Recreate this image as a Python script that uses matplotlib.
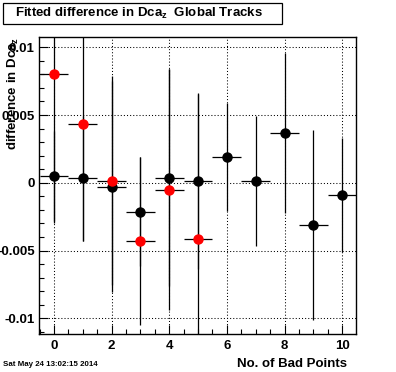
import matplotlib
matplotlib.use("Agg")
import matplotlib.pyplot as plt
from matplotlib.patches import Rectangle
from matplotlib.ticker import MultipleLocator, FixedLocator

plt.rcParams['font.family'] = ['Liberation Sans', 'DejaVu Sans']
plt.rcParams['mathtext.fontset'] = 'custom'
plt.rcParams['mathtext.rm'] = 'Liberation Sans:bold'
plt.rcParams['mathtext.it'] = 'Liberation Sans:bold'
plt.rcParams['mathtext.bf'] = 'Liberation Sans:bold'

# data
bad_points = [0, 1, 2, 3, 4, 5, 6, 7, 8, 9, 10]
black_y = [0.00049, 0.00034, -0.00029, -0.00213, 0.00039, 0.00012,
           0.00192, 0.00015, 0.00366, -0.00310, -0.00090]
black_err = [0.0033, 0.0046, 0.0078, 0.0040, 0.0080, 0.0065,
             0.0040, 0.0048, 0.0059, 0.0070, 0.0042]
red_x = [0, 1, 2, 3, 4, 5]
red_y = [0.00804, 0.00434, 0.00015, -0.00426, -0.00051, -0.00412]
red_err = [0.0110, 0.0086, 0.0077, 0.0062, 0.0089, 0.0107]
x_halfwidth = 0.5
y_ticks = [-0.01, -0.005, 0, 0.005, 0.01]
y_ticklabels = ["-0.01", "-0.005", "0", "0.005", "0.01"]
x_ticks = [0, 2, 4, 6, 8, 10]

W, H = 396, 372
fig = plt.figure(figsize=(W / 100, H / 100), dpi=100)
ax = fig.add_axes([39 / W, 1 - 334 / H, (356 - 39) / W, (334 - 37) / H])

ax.errorbar(bad_points, black_y, yerr=black_err, xerr=x_halfwidth, fmt='o',
            color='black', ecolor='black', elinewidth=0.9, capsize=0,
            markersize=6.5, zorder=3)
ax.errorbar(red_x, red_y, yerr=red_err, xerr=x_halfwidth, fmt='o',
            color='red', mfc='red', mec='red', ecolor='black', elinewidth=0.9,
            capsize=0, markersize=6.5, zorder=4)

ax.set_xlim(-0.52, 10.48)
ax.set_ylim(-0.01116, 0.01076)

ax.xaxis.set_major_locator(FixedLocator(x_ticks))
ax.xaxis.set_minor_locator(MultipleLocator(0.5))
ax.yaxis.set_major_locator(FixedLocator(y_ticks))
ax.yaxis.set_minor_locator(MultipleLocator(0.001))
ax.set_xticklabels([str(v) for v in x_ticks])
ax.set_yticklabels(y_ticklabels)

ax.tick_params(axis='both', which='both', direction='in', width=0.8,
               top=False, right=False)
ax.tick_params(axis='x', which='major', length=6.5, pad=4)
ax.tick_params(axis='x', which='minor', length=3.3)
ax.tick_params(axis='y', which='major', length=6.8, pad=3)
ax.tick_params(axis='y', which='minor', length=3.4)
for lab in ax.get_xticklabels() + ax.get_yticklabels():
    lab.set_fontweight('bold')
    lab.set_fontsize(9.5)

ax.grid(True, which='major', color='black', linestyle=(0, (1, 2)), linewidth=0.75)
ax.set_axisbelow(True)
for s in ax.spines.values():
    s.set_linewidth(1.0)

# title box
fig.patches.append(Rectangle((3 / W, 1 - 24 / H), (282 - 3) / W, (24 - 3) / H,
                             transform=fig.transFigure, facecolor='white',
                             edgecolor='black', linewidth=0.9))
fig.text(139 / W, 1 - 13.5 / H, "Fitted difference in Dca$_z$  Global Tracks",
         ha='center', va='center', fontsize=9.5, fontweight='bold')

fig.text(13 / W, 1 - 37 / H, "difference in Dca$_z$", rotation=90,
         ha='center', va='top', fontsize=9.5, fontweight='bold')
fig.text(347 / W, 1 - 364 / H, "No. of Bad Points", ha='right', va='center',
         fontsize=9.5, fontweight='bold')
fig.text(3 / W, 1 - 364.5 / H, "Sat May 24 13:02:15 2014", ha='left',
         va='center', fontsize=5.7, fontweight='bold')

fig.savefig("out.png", dpi=100)
